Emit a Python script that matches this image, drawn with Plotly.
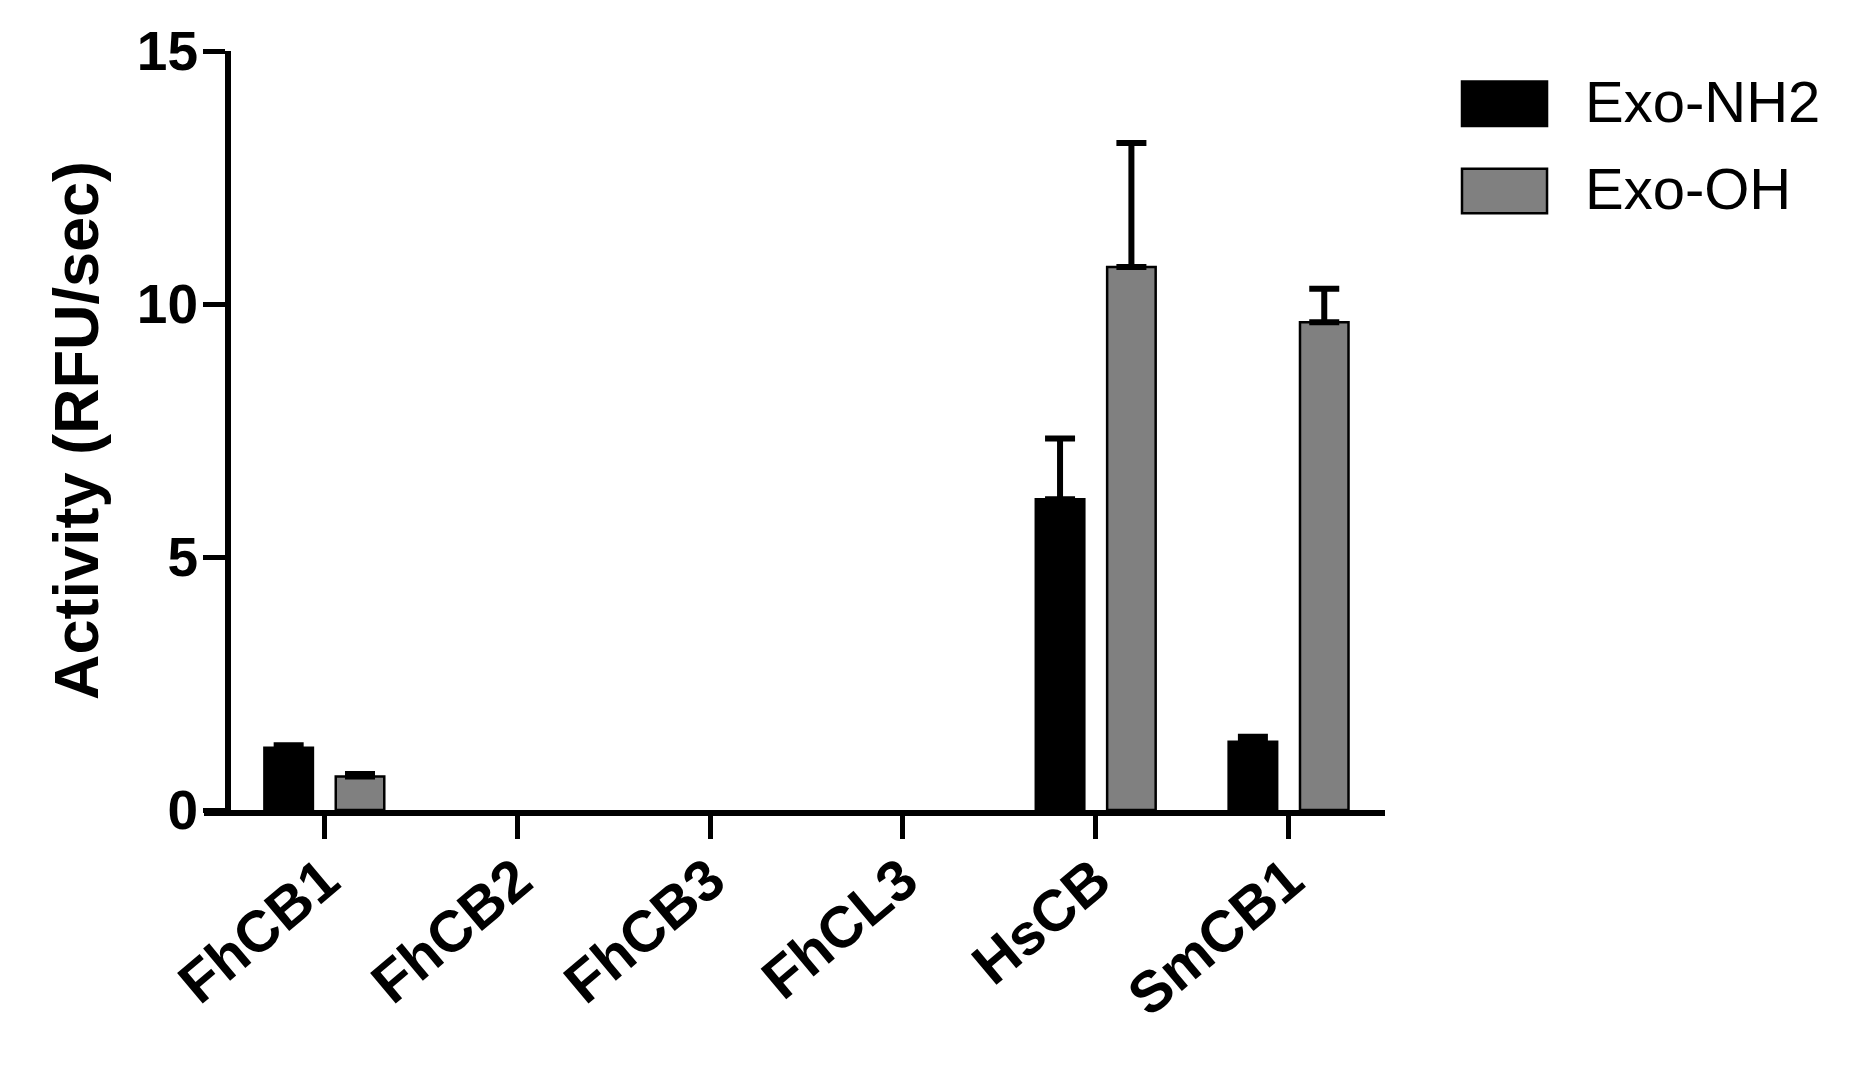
import plotly.graph_objects as go

# data
categories = ["FhCB1", "FhCB2", "FhCB3", "FhCL3", "HsCB", "SmCB1"]
series_names = ["Exo-NH2", "Exo-OH"]
nh2_values = [1.23, 0, 0, 0, 6.14, 1.35]
nh2_errors = [0.05, 0, 0, 0, 1.20, 0.10]
oh_values = [0.66, 0, 0, 0, 10.73, 9.64]
oh_errors = [0.05, 0, 0, 0, 2.45, 0.66]
y_ticks = [0, 5, 10, 15]

colors = ["black", "#808080"]
FONT = "Liberation Sans, Arial, sans-serif"

fig = go.Figure()

# one bar trace per series, upper error bars only (Prism style)
# zero values are left empty so no stub caps are drawn on the axis
for name, vals, errs, col in zip(series_names, [nh2_values, oh_values],
                                 [nh2_errors, oh_errors], colors):
    fig.add_trace(go.Bar(
        x=categories, y=[v if v > 0 else None for v in vals], name=name,
        showlegend=False,
        marker=dict(color=col, line=dict(color="black", width=2.5)),
        error_y=dict(type="data", array=errs, arrayminus=[0] * len(errs),
                     symmetric=False, color="black", thickness=6, width=15),
    ))

# home-made legend with large swatches
for i, (name, col) in enumerate(zip(series_names, colors)):
    y1 = 0.9597 - i * 0.115
    fig.add_shape(type="rect", xref="paper", yref="paper",
                  x0=1.0652, x1=1.1372, y0=y1 - 0.0585, y1=y1,
                  fillcolor=col, line=dict(color="black", width=2.5))
    fig.add_annotation(text=name, xref="paper", yref="paper",
                       x=1.1676, y=y1 - 0.026, xanchor="left", yanchor="middle",
                       showarrow=False, font=dict(family=FONT, size=58, color="black"))

# margins are 8px smaller on top/left to make up for the page body margin
fig.update_layout(
    width=1855, height=1073,
    margin=dict(l=196, r=478, t=33, b=271),
    paper_bgcolor="white", plot_bgcolor="white",
    barmode="group", bargap=0.26, bargroupgap=0.32,
    font=dict(family=FONT, color="black"),
)

fig.update_xaxes(
    type="category", range=[-0.624, 5.5],
    showline=True, linecolor="black", linewidth=6,
    ticks="outside", ticklen=23, tickwidth=5, tickcolor="black",
    ticklabelstandoff=-16,
    tickangle=-40, tickfont=dict(family=FONT, size=58, color="black", weight="bold"),
    showgrid=False, zeroline=False,
)

fig.update_yaxes(
    range=[0, 15], tickvals=y_ticks, anchor="free", position=24 / 1181,
    showline=True, linecolor="black", linewidth=6,
    ticks="outside", ticklen=22, tickwidth=5, tickcolor="black",
    ticklabelstandoff=-6,
    tickfont=dict(family=FONT, size=55, color="black", weight="bold"),
    title=dict(text="Activity (RFU/sec)", standoff=17,
               font=dict(family=FONT, size=63, color="black", weight="bold")),
    showgrid=False, zeroline=False,
)

fig.write_html("out.html")
